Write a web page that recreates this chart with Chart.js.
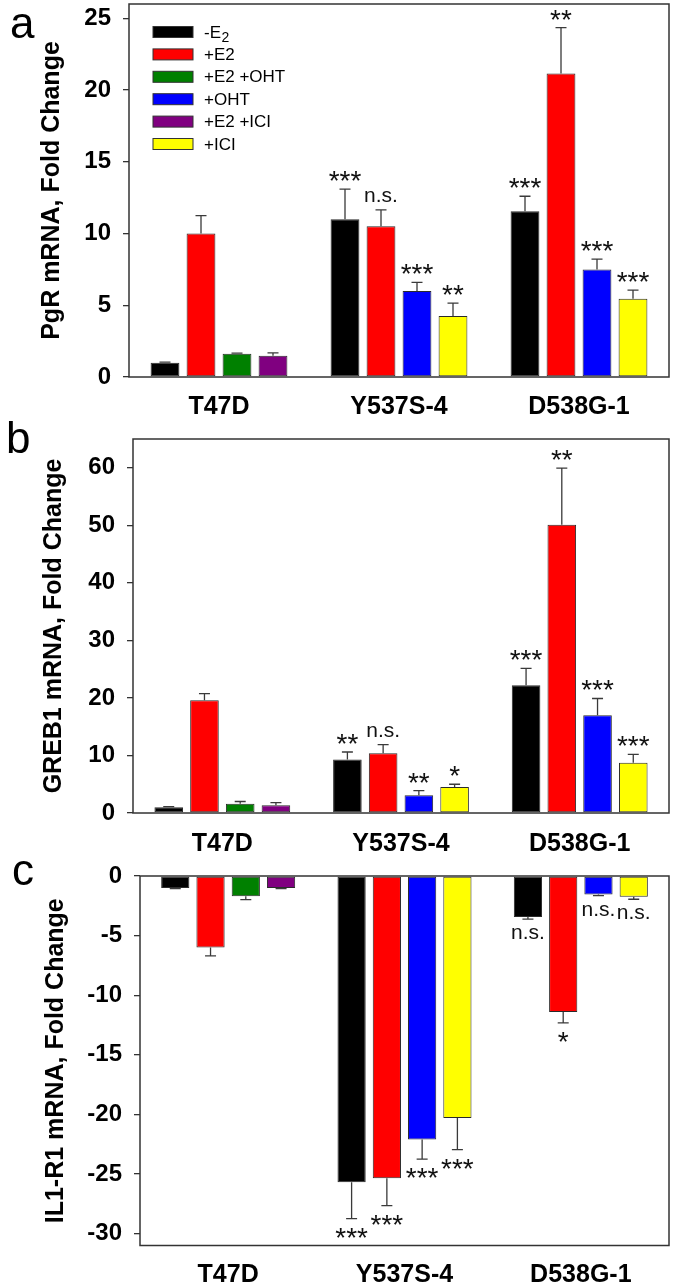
<!DOCTYPE html>
<html><head><meta charset="utf-8">
<script src="https://cdn.jsdelivr.net/npm/chart.js@4.4.1/dist/chart.umd.min.js"></script>
<style>
html,body{margin:0;padding:0;background:#fff;}
body{width:675px;height:1288px;position:relative;overflow:hidden;}
canvas{position:absolute;left:0;}
</style></head><body>
<canvas id="ca" width="675" height="430" style="top:0px"></canvas>
<canvas id="cb" width="675" height="442" style="top:420px"></canvas>
<canvas id="cc" width="675" height="438" style="top:850px"></canvas>
<script>
// ---------- data ----------
const categories = ['T47D', 'Y537S-4', 'D538G-1'];
const seriesNames = ['-E2', '+E2', '+E2 +OHT', '+OHT', '+E2 +ICI', '+ICI'];

// Panel a: PgR mRNA
const pgrNoE2   = [1.0, 11.0, 11.55];
const pgrE2     = [10.0, 10.5, 21.15];
const pgrE2Oht  = [1.62, null, null];
const pgrOht    = [null, 6.0, 7.5];
const pgrE2Ici  = [1.48, null, null];
const pgrIci    = [null, 4.25, 5.45];
const pgrNoE2Err  = [0.03, 2.1, 1.05];
const pgrE2Err    = [1.25, 1.15, 3.2];
const pgrE2OhtErr = [0.04, null, null];
const pgrOhtErr   = [null, 0.6, 0.72];
const pgrE2IciErr = [0.2, null, null];
const pgrIciErr   = [null, 0.9, 0.6];
const pgrNoE2Sig  = ['', '***', '***'];
const pgrE2Sig    = ['', 'n.s.', '**'];
const pgrE2OhtSig = ['', '', ''];
const pgrOhtSig   = ['', '***', '***'];
const pgrE2IciSig = ['', '', ''];
const pgrIciSig   = ['', '**', '***'];

// Panel b: GREB1 mRNA
const grebNoE2   = [1.0, 9.3, 22.2];
const grebE2     = [19.6, 10.4, 50.1];
const grebE2Oht  = [1.6, null, null];
const grebOht    = [null, 3.1, 17.0];
const grebE2Ici  = [1.35, null, null];
const grebIci    = [null, 4.5, 8.75];
const grebNoE2Err  = [0.1, 1.3, 2.95];
const grebE2Err    = [1.15, 1.5, 9.85];
const grebE2OhtErr = [0.4, null, null];
const grebOhtErr   = [null, 0.8, 2.9];
const grebE2IciErr = [0.45, null, null];
const grebIciErr   = [null, 0.5, 1.45];
const grebNoE2Sig  = ['', '**', '***'];
const grebE2Sig    = ['', 'n.s.', '**'];
const grebE2OhtSig = ['', '', ''];
const grebOhtSig   = ['', '**', '***'];
const grebE2IciSig = ['', '', ''];
const grebIciSig   = ['', '*', '***'];

// Panel c: IL1-R1 mRNA
const il1NoE2   = [-1.0, -25.7, -3.45];
const il1E2     = [-6.0, -25.35, -11.4];
const il1E2Oht  = [-1.7, null, null];
const il1Oht    = [null, -22.1, -1.55];
const il1E2Ici  = [-1.0, null, null];
const il1Ici    = [null, -20.3, -1.75];
const il1NoE2Err  = [0.05, 3.05, 0.17];
const il1E2Err    = [0.7, 2.3, 0.92];
const il1E2OhtErr = [0.28, null, null];
const il1OhtErr   = [null, 1.65, 0.1];
const il1E2IciErr = [0.05, null, null];
const il1IciErr   = [null, 2.65, 0.2];
const il1NoE2Sig  = ['', '***', 'n.s.'];
const il1E2Sig    = ['', '***', '*'];
const il1E2OhtSig = ['', '', ''];
const il1OhtSig   = ['', '***', 'n.s.'];
const il1E2IciSig = ['', '', ''];
const il1IciSig   = ['', '***', 'n.s.'];

// ---------- styling ----------
const FONT = "'Liberation Sans', Arial, Helvetica, sans-serif";
const COLORS = ['#000000', '#ff0000', '#008000', '#0000ff', '#800080', '#ffff00'];

const errorBarPlugin = {
  id: 'errbars',
  afterDatasetsDraw(chart) {
    const ctx = chart.ctx, ys = chart.scales.y;
    ctx.save();
    chart.data.datasets.forEach((ds, i) => {
      const meta = chart.getDatasetMeta(i);
      ds.data.forEach((v, j) => {
        if (v === null || v === undefined) return;
        const el = meta.data[j];
        const e = ds.errors[j] || 0;
        const dir = v >= 0 ? 1 : -1;
        const yEnd = ys.getPixelForValue(v + dir * e);
        const x = el.x;
        ctx.strokeStyle = '#3a3a3a';
        ctx.lineWidth = 1.3;
        ctx.beginPath();
        ctx.moveTo(x, el.y); ctx.lineTo(x, yEnd);
        ctx.moveTo(x - 5.5, yEnd); ctx.lineTo(x + 5.5, yEnd);
        ctx.stroke();
        const s = ds.sig[j];
        if (s) {
          const star = s.indexOf('*') >= 0;
          ctx.font = (star ? '28px ' : '21px ') + FONT;
          ctx.fillStyle = '#111';
          ctx.textAlign = 'center';
          ctx.textBaseline = 'alphabetic';
          const m = ctx.measureText(s);
          const ty = dir > 0 ? yEnd - 8 - m.actualBoundingBoxDescent
                             : yEnd + 9 + m.actualBoundingBoxAscent;
          ctx.fillText(s, x, ty);
        }
      });
    });
    ctx.restore();
  }
};

const boxPlugin = {
  id: 'box',
  afterDraw(chart) {
    const {left, top, right, bottom} = chart.chartArea;
    const ctx = chart.ctx;
    ctx.save();
    ctx.strokeStyle = '#333';
    ctx.lineWidth = 1.5;
    ctx.strokeRect(left, top, right - left, bottom - top);
    ctx.restore();
  }
};

const letterPlugin = {
  id: 'panelLetter',
  afterDraw(chart, args, opts) {
    if (!opts.text) return;
    const ctx = chart.ctx;
    ctx.save();
    ctx.font = '44px ' + FONT;
    ctx.fillStyle = '#000';
    ctx.textAlign = 'left';
    ctx.textBaseline = 'alphabetic';
    ctx.fillText(opts.text, opts.x, opts.y);
    ctx.restore();
  }
};

const insideLegend = {
  id: 'insideLegend',
  afterDraw(chart, args, opts) {
    if (!opts.show) return;
    const ctx = chart.ctx;
    ctx.save();
    chart.data.datasets.forEach((ds, i) => {
      const cy = opts.y + i * opts.step;
      ctx.fillStyle = ds.backgroundColor;
      ctx.fillRect(opts.x, cy - 5.5, 40, 11);
      ctx.strokeStyle = '#333';
      ctx.lineWidth = 1;
      ctx.strokeRect(opts.x, cy - 5.5, 40, 11);
      ctx.fillStyle = '#000';
      ctx.font = '17px ' + FONT;
      ctx.textAlign = 'left';
      ctx.textBaseline = 'middle';
      const tx = opts.x + 51;
      if (i === 0) {
        // "-E" with subscript "2"
        const main = ds.label.slice(0, -1), sub = ds.label.slice(-1);
        ctx.fillText(main, tx, cy + 1);
        const w = ctx.measureText(main).width;
        ctx.font = '14px ' + FONT;
        ctx.fillText(sub, tx + w + 0.5, cy + 6);
      } else {
        ctx.fillText(ds.label, tx, cy + 1);
      }
    });
    ctx.restore();
  }
};

function makeDatasets(vals, errs, sigs) {
  return seriesNames.map((name, i) => ({
    label: name,
    data: vals[i],
    errors: errs[i],
    sig: sigs[i],
    backgroundColor: COLORS[i],
    borderColor: '#2a2a2a',
    borderWidth: 1,
    borderSkipped: false,
    skipNull: true,
    categoryPercentage: 0.8,
    barPercentage: 0.8
  }));
}

function yScale(min, max, step, title, axisWidth, titlePad) {
  return {
    min: min, max: max,
    ticks: { stepSize: step, padding: 12, color: '#000',
             font: { family: FONT, size: 24, weight: 'bold' } },
    grid: { drawOnChartArea: false, drawTicks: true, tickLength: 6, color: '#333', lineWidth: 1.3 },
    border: { display: false },
    title: { display: true, text: title, color: '#000',
             font: { family: FONT, size: 25, weight: 'bold' },
             padding: { top: titlePad, bottom: 0 } },
    afterBuildTicks(s) {
      const t = [];
      for (let v = Math.ceil(s.min / step) * step; v <= s.max + 1e-9; v += step) t.push({ value: v });
      s.ticks = t;
    },
    afterFit(s) { s.width = axisWidth; s.paddingTop = 0; s.paddingBottom = 0; }
  };
}

function xScale(h, pad) {
  return {
    ticks: { color: '#000', padding: pad, maxRotation: 0, autoSkip: false,
             font: { family: FONT, size: 25, weight: 'bold' } },
    grid: { display: false, drawTicks: false },
    border: { display: false },
    afterFit(s) { s.height = h; s.paddingLeft = 0; s.paddingRight = 0; }
  };
}

function makeChart(id, datasets, y, x, padTop, letter, legend) {
  return new Chart(document.getElementById(id), {
    type: 'bar',
    data: { labels: categories, datasets: datasets },
    options: {
      responsive: false,
      animation: false,
      devicePixelRatio: 1,
      layout: { padding: { left: 0, right: 6, top: padTop, bottom: 0 } },
      scales: { x: x, y: y },
      plugins: {
        legend: { display: false },
        tooltip: { enabled: false },
        panelLetter: letter,
        insideLegend: legend
      }
    },
    plugins: [errorBarPlugin, boxPlugin, letterPlugin, insideLegend]
  });
}

makeChart('ca',
  makeDatasets([pgrNoE2, pgrE2, pgrE2Oht, pgrOht, pgrE2Ici, pgrIci],
               [pgrNoE2Err, pgrE2Err, pgrE2OhtErr, pgrOhtErr, pgrE2IciErr, pgrIciErr],
               [pgrNoE2Sig, pgrE2Sig, pgrE2OhtSig, pgrOhtSig, pgrE2IciSig, pgrIciSig]),
  yScale(0, 26, 5, 'PgR mRNA, Fold Change', 129, 37),
  xScale(53, 15), 4,
  { text: 'a', x: 10, y: 38 },
  { show: true, x: 153, y: 32, step: 22.4 });

makeChart('cb',
  makeDatasets([grebNoE2, grebE2, grebE2Oht, grebOht, grebE2Ici, grebIci],
               [grebNoE2Err, grebE2Err, grebE2OhtErr, grebOhtErr, grebE2IciErr, grebIciErr],
               [grebNoE2Sig, grebE2Sig, grebE2OhtSig, grebOhtSig, grebE2IciSig, grebIciSig]),
  yScale(0, 65, 10, 'GREB1 mRNA, Fold Change', 133, 39),
  xScale(49, 16), 19,
  { text: 'b', x: 6, y: 33 },
  { show: false });

makeChart('cc',
  makeDatasets([il1NoE2, il1E2, il1E2Oht, il1Oht, il1E2Ici, il1Ici],
               [il1NoE2Err, il1E2Err, il1E2OhtErr, il1OhtErr, il1E2IciErr, il1IciErr],
               [il1NoE2Sig, il1E2Sig, il1E2OhtSig, il1OhtSig, il1E2IciSig, il1IciSig]),
  yScale(-31, 0, 5, 'IL1-R1 mRNA, Fold Change', 140, 41),
  xScale(42.5, 15), 26,
  { text: 'c', x: 12, y: 35 },
  { show: false });
</script>
</body></html>
